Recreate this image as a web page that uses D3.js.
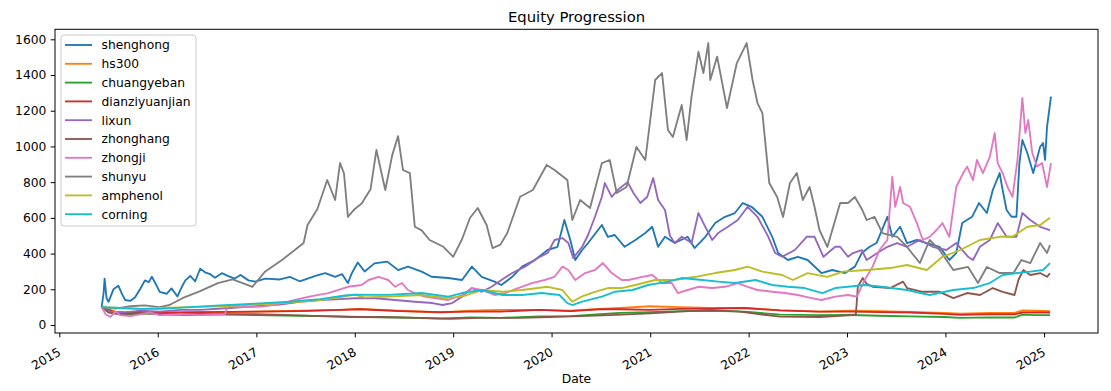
<!DOCTYPE html>
<html><head><meta charset="utf-8">
<script src="https://cdn.jsdelivr.net/npm/d3@7"></script>
<style>body{margin:0;background:#fff} text{font-family:"DejaVu Sans",sans-serif}</style>
</head><body><svg id="c" width="1111" height="391"></svg>
<script>
// ---- data (dates as decimal years) ----
const seriesNames = ["shenghong","hs300","chuangyeban","dianziyuanjian","lixun","zhonghang","zhongji","shunyu","amphenol","corning"];
const seriesColors = ["#1f77b4","#ff7f0e","#2ca02c","#d62728","#9467bd","#8c564b","#e377c2","#7f7f7f","#bcbd22","#17becf"];
const yTickValues = [0,200,400,600,800,1000,1200,1400,1600];
const xTickYears = [2015,2016,2017,2018,2019,2020,2021,2022,2023,2024,2025];

const shenghong = [[2015.43,100],[2015.45,180],[2015.46,260],[2015.48,150],[2015.50,130],[2015.55,200],[2015.60,220],[2015.64,170],[2015.67,140],[2015.72,135],[2015.77,155],[2015.82,200],[2015.87,250],[2015.91,240],[2015.94,270],[2015.98,230],[2016.02,185],[2016.09,175],[2016.14,205],[2016.20,160],[2016.25,220],[2016.28,250],[2016.33,275],[2016.38,245],[2016.43,315],[2016.48,295],[2016.53,285],[2016.58,265],[2016.65,290],[2016.71,275],[2016.78,260],[2016.84,280],[2016.92,250],[2016.99,243],[2017.09,260],[2017.24,255],[2017.34,270],[2017.44,245],[2017.60,275],[2017.70,290],[2017.80,270],[2017.87,285],[2017.93,235],[2017.97,290],[2018.03,350],[2018.10,300],[2018.20,345],[2018.33,355],[2018.44,308],[2018.54,327],[2018.68,299],[2018.78,270],[2018.95,263],[2019.09,252],[2019.19,327],[2019.29,270],[2019.42,243],[2019.49,224],[2019.60,270],[2019.70,327],[2019.83,364],[2019.96,420],[2020.06,438],[2020.13,588],[2020.19,476],[2020.24,364],[2020.31,420],[2020.37,459],[2020.51,560],[2020.57,494],[2020.64,504],[2020.74,438],[2020.85,476],[2020.95,515],[2021.02,550],[2021.08,438],[2021.15,494],[2021.25,459],[2021.38,494],[2021.45,431],[2021.56,494],[2021.66,571],[2021.76,606],[2021.86,627],[2021.94,683],[2022.03,662],[2022.14,606],[2022.24,494],[2022.30,403],[2022.40,364],[2022.50,382],[2022.60,364],[2022.74,291],[2022.85,308],[2022.98,291],[2023.08,327],[2023.15,403],[2023.23,438],[2023.30,459],[2023.41,606],[2023.46,494],[2023.54,550],[2023.61,459],[2023.71,476],[2023.81,459],[2023.94,438],[2024.04,364],[2024.11,403],[2024.17,571],[2024.27,606],[2024.34,683],[2024.42,627],[2024.48,756],[2024.55,851],[2024.58,756],[2024.62,644],[2024.67,606],[2024.72,606],[2024.75,907],[2024.78,1036],[2024.83,963],[2024.89,851],[2024.96,998],[2024.99,1019],[2025.01,924],[2025.03,1110],[2025.07,1279]];

const lowDates = [2015.43,2015.57,2015.72,2016.02,2016.43,2016.99,2017.44,2017.85,2018.05,2018.46,2018.87,2019.17,2019.48,2019.88,2020.19,2020.49,2020.69,2021.00,2021.30,2021.61,2021.96,2022.32,2022.72,2023.03,2023.33,2023.64,2023.99,2024.15,2024.45,2024.70,2024.78,2024.91,2025.06];
const hs300Values = [100,75,70,65,70,75,80,85,90,80,70,80,85,85,80,90,95,105,100,95,95,82,75,80,78,73,68,63,68,68,82,80,78];
const chuangyebanValues = [100,65,60,65,62,55,52,48,45,42,36,43,40,48,50,60,68,72,78,80,75,58,55,56,52,48,45,40,43,42,58,55,55];
const dianziyuanjianValues = [100,70,65,70,72,75,78,85,88,78,72,75,75,85,78,88,88,85,90,92,95,82,75,75,72,70,62,57,60,60,70,70,70];

const lixun = [[2015.43,100],[2015.52,75],[2015.67,70],[2015.82,80],[2016.02,75],[2016.23,85],[2016.43,85],[2016.73,95],[2016.99,105],[2017.24,115],[2017.44,130],[2017.65,140],[2017.85,145],[2018.00,150],[2018.21,150],[2018.41,140],[2018.61,130],[2018.79,123],[2018.89,112],[2018.99,123],[2019.09,159],[2019.19,207],[2019.29,186],[2019.39,214],[2019.49,252],[2019.60,291],[2019.73,327],[2019.86,375],[2019.96,403],[2020.03,476],[2020.11,487],[2020.17,459],[2020.22,375],[2020.31,438],[2020.37,504],[2020.44,606],[2020.51,718],[2020.54,795],[2020.61,718],[2020.67,756],[2020.77,800],[2020.83,739],[2020.90,683],[2020.97,718],[2021.03,823],[2021.08,700],[2021.15,644],[2021.20,500],[2021.25,459],[2021.32,494],[2021.42,459],[2021.49,627],[2021.56,550],[2021.63,476],[2021.69,515],[2021.79,550],[2021.89,588],[2021.99,662],[2022.09,606],[2022.20,494],[2022.27,403],[2022.34,382],[2022.47,420],[2022.59,494],[2022.67,494],[2022.76,382],[2022.88,438],[2022.93,438],[2023.01,382],[2023.06,403],[2023.15,420],[2023.20,364],[2023.30,400],[2023.41,438],[2023.51,459],[2023.61,438],[2023.74,476],[2023.87,438],[2024.01,420],[2024.11,459],[2024.23,382],[2024.28,364],[2024.35,438],[2024.45,476],[2024.53,571],[2024.62,494],[2024.72,494],[2024.78,627],[2024.86,588],[2024.96,550],[2025.06,532]];

const zhonghang = [[2015.43,100],[2015.50,70],[2015.62,60],[2015.82,70],[2016.02,60],[2016.33,55],[2016.63,60],[2016.99,60],[2017.34,55],[2017.65,50],[2017.95,45],[2018.26,45],[2018.66,40],[2018.97,35],[2019.27,40],[2019.68,40],[2019.98,45],[2020.29,50],[2020.59,55],[2021.00,65],[2021.30,75],[2021.61,85],[2021.91,75],[2022.12,60],[2022.32,47],[2022.72,45],[2023.06,56],[2023.09,60],[2023.11,214],[2023.16,263],[2023.20,230],[2023.26,214],[2023.44,207],[2023.57,243],[2023.61,207],[2023.77,186],[2023.94,186],[2024.08,151],[2024.22,179],[2024.35,168],[2024.48,207],[2024.58,186],[2024.70,168],[2024.74,252],[2024.79,308],[2024.86,280],[2024.96,291],[2025.03,270],[2025.06,290]];

const zhongji = [[2015.43,100],[2015.47,60],[2015.52,45],[2015.57,75],[2015.62,55],[2015.72,50],[2015.82,60],[2015.92,70],[2016.02,55],[2016.23,60],[2016.43,55],[2016.68,60],[2016.71,105],[2016.84,100],[2017.06,103],[2017.24,120],[2017.39,140],[2017.55,160],[2017.73,179],[2017.93,214],[2018.07,224],[2018.14,252],[2018.24,270],[2018.34,252],[2018.41,214],[2018.48,235],[2018.54,196],[2018.61,179],[2018.71,159],[2018.81,151],[2018.95,140],[2019.09,168],[2019.19,207],[2019.29,196],[2019.42,168],[2019.53,179],[2019.66,207],[2019.80,235],[2019.93,252],[2020.03,270],[2020.11,327],[2020.17,308],[2020.24,252],[2020.34,291],[2020.44,308],[2020.52,347],[2020.61,291],[2020.71,252],[2020.78,252],[2020.92,270],[2021.02,280],[2021.12,235],[2021.22,235],[2021.28,179],[2021.38,196],[2021.49,214],[2021.63,207],[2021.76,214],[2021.89,235],[2021.99,214],[2022.09,196],[2022.24,186],[2022.37,179],[2022.50,168],[2022.64,151],[2022.74,140],[2022.88,159],[2023.01,168],[2023.10,159],[2023.18,252],[2023.26,327],[2023.33,420],[2023.41,476],[2023.46,830],[2023.49,662],[2023.54,773],[2023.57,683],[2023.64,662],[2023.71,571],[2023.77,476],[2023.84,494],[2023.91,532],[2023.97,571],[2024.04,494],[2024.11,773],[2024.18,851],[2024.22,887],[2024.28,812],[2024.32,924],[2024.38,851],[2024.45,942],[2024.50,1075],[2024.53,907],[2024.58,851],[2024.63,773],[2024.68,718],[2024.73,924],[2024.78,1271],[2024.81,1075],[2024.84,1148],[2024.88,963],[2024.93,887],[2024.98,907],[2025.03,773],[2025.07,907]];

const shunyu = [[2015.43,100],[2015.57,92],[2015.72,105],[2015.87,110],[2016.02,100],[2016.12,112],[2016.25,150],[2016.43,190],[2016.61,235],[2016.76,255],[2016.96,214],[2017.09,300],[2017.26,364],[2017.39,420],[2017.48,459],[2017.52,560],[2017.62,650],[2017.72,812],[2017.80,700],[2017.85,907],[2017.89,850],[2017.93,606],[2018.00,650],[2018.07,680],[2018.16,760],[2018.22,980],[2018.31,756],[2018.38,950],[2018.44,1058],[2018.49,868],[2018.56,851],[2018.61,550],[2018.68,530],[2018.76,476],[2018.90,438],[2019.00,382],[2019.09,480],[2019.17,599],[2019.25,655],[2019.34,560],[2019.40,431],[2019.48,450],[2019.55,515],[2019.68,718],[2019.81,756],[2019.95,896],[2020.03,868],[2020.16,812],[2020.21,588],[2020.29,700],[2020.39,655],[2020.51,907],[2020.59,924],[2020.66,739],[2020.76,773],[2020.86,997],[2020.95,924],[2021.05,1372],[2021.12,1411],[2021.18,1092],[2021.23,1053],[2021.32,1232],[2021.37,1036],[2021.42,1279],[2021.49,1530],[2021.54,1411],[2021.59,1579],[2021.61,1372],[2021.68,1503],[2021.78,1215],[2021.88,1467],[2021.98,1579],[2022.04,1372],[2022.09,1243],[2022.14,1187],[2022.21,795],[2022.29,717],[2022.35,605],[2022.42,795],[2022.49,851],[2022.55,700],[2022.62,773],[2022.67,661],[2022.72,532],[2022.80,437],[2022.88,588],[2022.93,683],[2023.01,683],[2023.08,717],[2023.15,650],[2023.20,588],[2023.28,605],[2023.36,515],[2023.51,493],[2023.61,437],[2023.74,347],[2023.84,476],[2023.94,420],[2024.08,308],[2024.23,325],[2024.33,235],[2024.42,325],[2024.55,291],[2024.69,291],[2024.77,364],[2024.86,347],[2024.96,459],[2025.03,403],[2025.06,448]];

const amphenolDates = [2015.43,2015.62,2015.82,2016.02,2016.33,2016.63,2016.99,2017.34,2017.65,2017.90,2018.00,2018.10,2018.34,2018.68,2018.92,2019.09,2019.29,2019.50,2019.70,2019.96,2020.11,2020.21,2020.31,2020.44,2020.57,2020.71,2020.85,2021.05,2021.25,2021.46,2021.66,2021.86,2021.99,2022.14,2022.34,2022.45,2022.60,2022.80,2022.96,2023.20,2023.44,2023.61,2023.81,2023.97,2024.15,2024.35,2024.55,2024.68,2024.83,2024.96,2025.06];
const amphenolValues = [100,95,90,95,100,105,115,125,140,160,170,155,159,168,151,159,196,186,196,214,196,130,160,186,207,207,224,252,252,270,291,308,327,299,280,252,291,270,299,308,319,336,308,382,420,476,494,494,550,560,600];

const corningDates = [2015.43,2015.62,2015.82,2016.02,2016.33,2016.63,2016.99,2017.34,2017.65,2017.90,2018.00,2018.34,2018.68,2018.95,2019.09,2019.29,2019.50,2019.70,2019.90,2020.08,2020.16,2020.21,2020.31,2020.51,2020.64,2020.82,2020.98,2021.18,2021.32,2021.53,2021.69,2021.86,2022.07,2022.24,2022.40,2022.57,2022.75,2022.88,2023.01,2023.18,2023.35,2023.61,2023.84,2024.08,2024.28,2024.45,2024.58,2024.73,2024.86,2024.99,2025.06];
const corningValues = [100,95,90,90,100,110,120,130,145,165,170,169,179,159,179,196,168,168,179,168,123,112,131,159,186,196,224,243,263,252,243,235,252,224,214,207,179,207,214,224,214,196,168,196,207,235,280,291,299,308,347];

// ---- build ----
const zip = (ds, vs) => ds.map((d, i) => [d, vs[i]]);
const allSeries = [
  shenghong,
  zip(lowDates, hs300Values),
  zip(lowDates, chuangyebanValues),
  zip(lowDates, dianziyuanjianValues),
  lixun,
  zhonghang,
  zhongji,
  shunyu,
  zip(amphenolDates, amphenolValues),
  zip(corningDates, corningValues)
];

function dec2date(d){const yr=Math.floor(d);const s=Date.UTC(yr,0,1),e=Date.UTC(yr+1,0,1);return new Date(s+(d-yr)*(e-s));}

const L=55,R=1098,T=29.3,B=333;
const FS=12.3;
const svg=d3.select("#c");
const x=d3.scaleUtc().domain([dec2date(2014.956),dec2date(2025.548)]).range([L,R]);
const y=d3.scaleLinear().domain([-44.8,1656]).range([B,T]);

const line=d3.line().x(d=>x(dec2date(d[0]))).y(d=>y(d[1]));
const g=svg.append("g");
allSeries.forEach((s,i)=>{
  g.append("path").attr("d",line(s)).attr("fill","none")
   .attr("stroke",seriesColors[i]).attr("stroke-width",1.85)
   .attr("stroke-linejoin","round").attr("stroke-linecap","butt");
});

// axes
const yAx=svg.append("g").attr("transform",`translate(${L},0)`)
  .call(d3.axisLeft(y).tickValues(yTickValues).tickSize(4.3).tickPadding(4.3).tickFormat(d3.format("d")));
yAx.select(".domain").remove();
yAx.selectAll("line").attr("stroke","#000").attr("stroke-width",1);
yAx.selectAll("text").attr("font-size",FS).attr("font-family","DejaVu Sans").attr("fill","#000");

const xAx=svg.append("g").attr("transform",`translate(0,${B})`)
  .call(d3.axisBottom(x).tickValues(xTickYears.map(v=>new Date(Date.UTC(v,0,1)))).tickSize(4.3).tickFormat(d3.utcFormat("%Y")));
xAx.select(".domain").remove();
xAx.selectAll("line").attr("stroke","#000").attr("stroke-width",1);
xAx.selectAll("text").attr("font-size",FS).attr("font-family","DejaVu Sans").attr("fill","#000")
  .attr("x",0).attr("y",0).attr("dy",0).attr("text-anchor","end")
  .attr("transform","translate(2,21.5) rotate(-30)");

// spines
svg.append("rect").attr("x",L).attr("y",T).attr("width",R-L).attr("height",B-T)
  .attr("fill","none").attr("stroke","#000").attr("stroke-width",1);

// title & label
svg.append("text").attr("x",(L+R)/2).attr("y",22).attr("text-anchor","middle")
  .attr("font-size",14.8).attr("fill","#000").text("Equity Progression");
svg.append("text").attr("x",(L+R)/2).attr("y",383).attr("text-anchor","middle")
  .attr("font-size",FS).attr("fill","#000").text("Date");

// legend
const lg=svg.append("g");
lg.append("rect").attr("x",61).attr("y",35).attr("width",135).attr("height",191).attr("rx",3)
  .attr("fill","#fff").attr("fill-opacity",0.8).attr("stroke","#ccc").attr("stroke-width",1);
seriesNames.forEach((n,i)=>{
  const yy=45+i*18.8;
  lg.append("line").attr("x1",65).attr("x2",92).attr("y1",yy).attr("y2",yy)
    .attr("stroke",seriesColors[i]).attr("stroke-width",1.85);
  lg.append("text").attr("x",101.5).attr("y",yy+4.4).attr("font-size",FS).attr("fill","#000").text(n);
});
</script></body></html>
